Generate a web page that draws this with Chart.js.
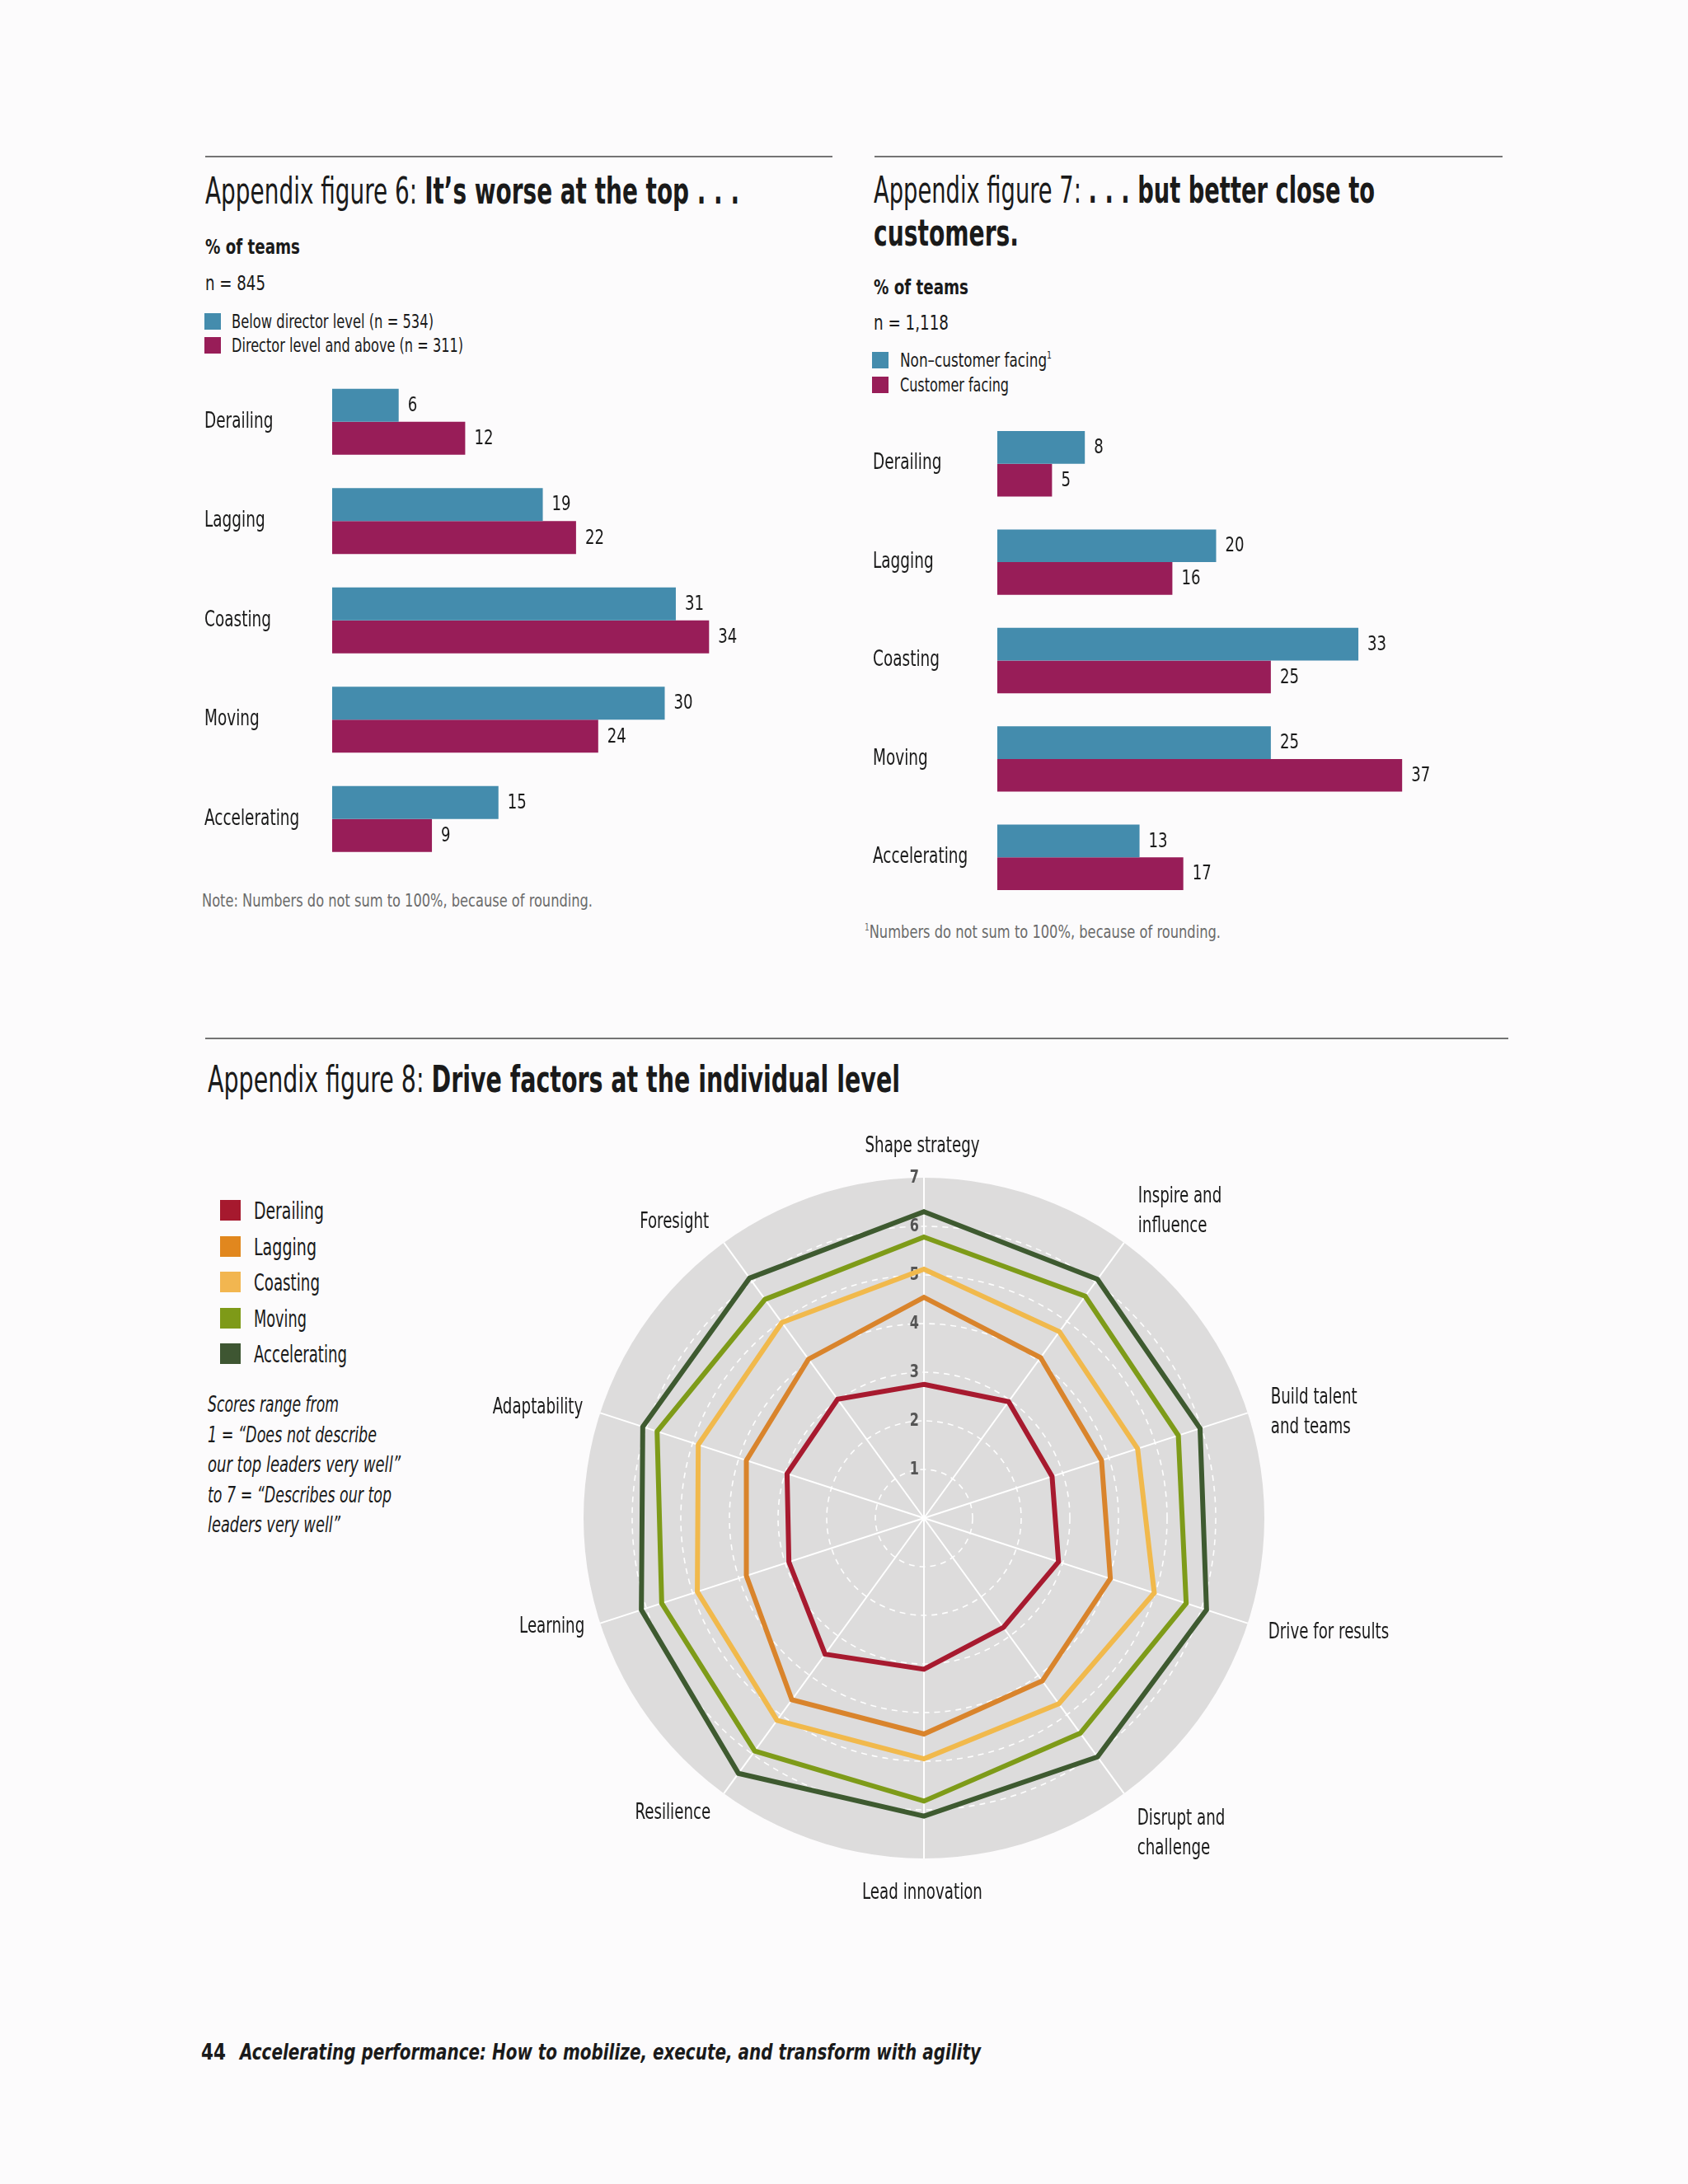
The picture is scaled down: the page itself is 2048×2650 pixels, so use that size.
<!DOCTYPE html>
<html>
<head>
<meta charset="utf-8">
<script src="https://cdn.jsdelivr.net/npm/chart.js@4.4.1/dist/chart.umd.min.js"></script>
<style>
html,body{margin:0;padding:0;background:#fcfbfc;}
body{width:2048px;height:2650px;position:relative;overflow:hidden;font-family:'Liberation Sans Narrow','DejaVu Sans Condensed',sans-serif;color:#1a1a1a;}
.t{position:absolute;white-space:nowrap;transform-origin:0 0;line-height:1;}
.rule{position:absolute;height:2px;background:#747474;}
.sw{position:absolute;}
canvas{position:absolute;}
sup{font-size:55%;vertical-align:0;position:relative;top:-0.75em;}
</style>
</head>
<body>
<div class="rule" style="left:249px;top:189px;width:761px;"></div>
<div class="rule" style="left:1061px;top:189px;width:762px;"></div>
<div class="rule" style="left:249px;top:1259px;width:1581px;"></div>

<canvas id="fig6" width="762" height="625" style="left:248px;top:440px;"></canvas>
<canvas id="fig7" width="771" height="617" style="left:1059px;top:493px;"></canvas>
<canvas id="fig8" width="1200" height="1000" style="left:540px;top:1340px;"></canvas>

<script>
// ---------------- data ----------------
const fig6Categories = ['Derailing', 'Lagging', 'Coasting', 'Moving', 'Accelerating'];
const fig6SeriesNames = ['Below director level (n = 534)', 'Director level and above (n = 311)'];
const fig6Below = [6, 19, 31, 30, 15];
const fig6Director = [12, 22, 34, 24, 9];

const fig7Categories = ['Derailing', 'Lagging', 'Coasting', 'Moving', 'Accelerating'];
const fig7SeriesNames = ['Non–customer facing', 'Customer facing'];
const fig7NonCustomer = [8, 20, 33, 25, 13];
const fig7Customer = [5, 16, 25, 37, 17];

const radarAxes = ['Shape strategy', ['Inspire and', 'influence'], ['Build talent', 'and teams'], 'Drive for results',
  ['Disrupt and', 'challenge'], 'Lead innovation', 'Resilience', 'Learning', 'Adaptability', 'Foresight'];
const radarSeriesNames = ['Derailing', 'Lagging', 'Coasting', 'Moving', 'Accelerating'];
const radarDerailing    = [2.75, 2.96, 2.77, 2.91, 2.78, 3.11, 3.46, 2.92, 2.96, 3.02];
const radarLagging      = [4.54, 4.08, 3.84, 4.03, 4.14, 4.44, 4.62, 3.84, 3.84, 4.04];
const radarCoasting     = [5.12, 4.74, 4.62, 4.98, 4.72, 4.95, 5.14, 4.90, 4.88, 4.97];
const radarMoving       = [5.78, 5.64, 5.50, 5.67, 5.47, 5.82, 5.92, 5.67, 5.77, 5.56];
const radarAccelerating = [6.30, 6.07, 5.97, 6.11, 6.07, 6.13, 6.49, 6.11, 6.08, 6.10];
const radarTicks = [1, 2, 3, 4, 5, 6, 7];

// ---------------- styles ----------------
const FONT = "'Liberation Sans Narrow','DejaVu Sans Condensed',sans-serif";
const BLUE = '#448cad';
const MAGENTA = '#981d58';
const RADAR_COLORS = ['#a71a2f', '#d9842c', '#f1b94c', '#7e9b19', '#3e5a30'];
const LEGEND_COLORS = ['#a6192e', '#e1871e', '#f2b650', '#7e9a18', '#3e5632'];
const SQUEEZE = 0.79; // horizontal compression for canvas text (condensed face)

// ---------------- text helpers ----------------
function addText(x, base, size, html, opt) {
  opt = opt || {};
  const d = document.createElement('div');
  d.className = 't';
  d.style.left = x + 'px';
  d.style.top = (base - 0.846 * size) + 'px';
  d.style.fontSize = size + 'px';
  if (opt.weight) d.style.fontWeight = opt.weight;
  if (opt.italic) d.style.fontStyle = 'italic';
  if (opt.color) d.style.color = opt.color;
  d.innerHTML = html;
  document.body.appendChild(d);
  if (opt.w) {
    const w = d.getBoundingClientRect().width;
    if (w > 0) d.style.transform = 'scaleX(' + (opt.w / w) + ')';
  }
  return d;
}
function addSwatch(x, y, w, h, color) {
  const s = document.createElement('div');
  s.className = 'sw';
  s.style.cssText += `left:${x}px;top:${y}px;width:${w}px;height:${h}px;background:${color};`;
  document.body.appendChild(s);
}
function canvasText(ctx, text, x, y, align, sx) {
  ctx.save();
  ctx.translate(x, y);
  ctx.scale(sx, 1);
  ctx.textAlign = align;
  ctx.fillText(text, 0, 0);
  ctx.restore();
}

// Figure 6 texts
addText(249, 247, 44, 'Appendix figure 6: <b>It’s worse at the top . . .</b>', {w: 648});
addText(249, 308, 25, '% of teams', {weight: 'bold', w: 115});
addText(249, 352, 25, 'n = 845', {w: 73});
addSwatch(248, 380, 20, 20, BLUE);
addSwatch(248, 409, 20, 20, MAGENTA);
addText(281, 398, 23, fig6SeriesNames[0], {w: 245});
addText(281, 427, 23, fig6SeriesNames[1], {w: 281});
addText(245, 1101, 22, 'Note: Numbers do not sum to 100%, because of rounding.', {w: 474, color: '#6b6b6b'});

// Figure 7 texts
addText(1060, 246, 44, 'Appendix figure 7: <b>. . . but better close to</b>', {w: 608});
addText(1060, 298, 44, '<b>customers.</b>', {w: 176});
addText(1060, 357, 25, '% of teams', {weight: 'bold', w: 115});
addText(1060, 400, 25, 'n = 1,118', {w: 91});
addSwatch(1058, 427, 20, 20, BLUE);
addSwatch(1058, 457, 20, 20, MAGENTA);
addText(1092, 445, 23, fig7SeriesNames[0] + '<sup>1</sup>', {w: 184});
addText(1092, 475, 23, fig7SeriesNames[1], {w: 132});
addText(1049, 1139, 22, '<sup>1</sup>Numbers do not sum to 100%, because of rounding.', {w: 432, color: '#6b6b6b'});

// Figure 8 texts
addText(252, 1325, 44, 'Appendix figure 8: <b>Drive factors at the individual level</b>', {w: 840});
const legendBase = [1480, 1524, 1567, 1611, 1654];
const legendW = [85, 76, 80, 64, 113];
radarSeriesNames.forEach((n, i) => {
  addSwatch(267, legendBase[i] - 24, 25, 25, LEGEND_COLORS[i]);
  addText(308, legendBase[i], 28, n, {w: legendW[i]});
});
const noteLines = ['Scores range from', '1 = “Does not describe', 'our top leaders very well”', 'to 7 = “Describes our top', 'leaders very well”'];
const noteW = [159, 205, 234, 223, 161];
noteLines.forEach((l, i) => addText(252, 1713 + i * 36.5, 27, l, {italic: true, w: noteW[i]}));

// Footer
addText(244, 2499, 26, '44', {weight: 'bold', w: 30});
addText(291, 2499, 26, 'Accelerating performance: How to mobilize, execute, and transform with agility', {weight: 'bold', italic: true, w: 899});

// ---------------- bar charts ----------------
const barText = {
  id: 'barText',
  afterDatasetsDraw(chart) {
    const ctx = chart.ctx;
    ctx.save();
    ctx.fillStyle = '#1a1a1a';
    ctx.textBaseline = 'middle';
    // value labels at bar ends
    ctx.font = '24px ' + FONT;
    chart.data.datasets.forEach((ds, di) => {
      chart.getDatasetMeta(di).data.forEach((bar, i) => {
        canvasText(ctx, String(ds.data[i]), bar.x + 11, bar.y + 1, 'left', 0.84);
      });
    });
    // category labels from the y scale
    const ys = chart.scales.y;
    ctx.font = '26px ' + FONT;
    ys.getLabels().forEach((lab, i) => {
      canvasText(ctx, lab, ys.left, ys.getPixelForTick(i), 'left', SQUEEZE);
    });
    ctx.restore();
  }
};

function barChart(id, cats, names, a, b, pad, axisW) {
  return new Chart(document.getElementById(id), {
    type: 'bar',
    data: {
      labels: cats,
      datasets: [
        {label: names[0], data: a, backgroundColor: BLUE, categoryPercentage: 0.665, barPercentage: 1},
        {label: names[1], data: b, backgroundColor: MAGENTA, categoryPercentage: 0.665, barPercentage: 1}
      ]
    },
    options: {
      indexAxis: 'y',
      responsive: false,
      animation: false,
      devicePixelRatio: 1,
      layout: {padding: pad},
      plugins: {legend: {display: false}, tooltip: {enabled: false}},
      scales: {
        x: {display: false, min: 0, max: 40},
        y: {
          afterFit: ax => { ax.width = axisW; },
          grid: {display: false},
          border: {display: false},
          ticks: {display: false}
        }
      }
    },
    plugins: [barText]
  });
}
barChart('fig6', fig6Categories, fig6SeriesNames, fig6Below, fig6Director, {left: 0, right: 69, top: 11.5, bottom: 11}, 155);
barChart('fig7', fig7Categories, fig7SeriesNames, fig7NonCustomer, fig7Customer, {left: 0, right: 89, top: 10, bottom: 10}, 151);

// ---------------- radar ----------------
const LABEL_POS = [
  {dx: -2, dy: -38, align: 'center'},
  {dx: 17, dy: -38, align: 'left'},
  {dx: 28, dy: 0, align: 'left'},
  {dx: 25, dy: 12, align: 'left'},
  {dx: 16, dy: 49, align: 'left'},
  {dx: -2, dy: 42, align: 'center'},
  {dx: -16, dy: 24, align: 'right'},
  {dx: -19, dy: 5, align: 'right'},
  {dx: -21, dy: -6, align: 'right'},
  {dx: -18, dy: -25, align: 'right'}
];
const radarDecor = {
  id: 'radarDecor',
  beforeDatasetsDraw(chart) {
    const s = chart.scales.r, ctx = chart.ctx;
    ctx.save();
    ctx.font = 'bold 21px ' + FONT;
    ctx.fillStyle = '#555555';
    ctx.textBaseline = 'middle';
    radarTicks.forEach(v => {
      canvasText(ctx, String(v), s.xCenter - 6, s.yCenter - s.getDistanceFromCenterForValue(v) + 1, 'right', 0.85);
    });
    ctx.restore();
  },
  afterDraw(chart) {
    const s = chart.scales.r, ctx = chart.ctx;
    ctx.save();
    ctx.font = '26px ' + FONT;
    ctx.fillStyle = '#1a1a1a';
    ctx.textBaseline = 'middle';
    radarAxes.forEach((lab, i) => {
      const tip = s.getPointPosition(i, s.drawingArea);
      const o = LABEL_POS[i];
      const lines = Array.isArray(lab) ? lab : [lab];
      const lh = 36;
      const top = tip.y + o.dy - (lines.length - 1) * lh / 2;
      lines.forEach((ln, k) => canvasText(ctx, ln, tip.x + o.dx, top + k * lh, o.align, 0.78));
    });
    ctx.restore();
  }
};
const radarData = [radarDerailing, radarLagging, radarCoasting, radarMoving, radarAccelerating];
new Chart(document.getElementById('fig8'), {
  type: 'radar',
  data: {
    labels: radarAxes,
    datasets: radarData.map((d, i) => ({
      label: radarSeriesNames[i], data: d, borderColor: RADAR_COLORS[i], backgroundColor: 'transparent',
      borderWidth: 6, fill: false, pointRadius: 0, pointHoverRadius: 0, tension: 0, borderJoinStyle: 'miter'
    }))
  },
  options: {
    responsive: false,
    animation: false,
    devicePixelRatio: 1,
    layout: {padding: {left: 168, right: 206, top: 89, bottom: 85}},
    plugins: {legend: {display: false}, tooltip: {enabled: false}},
    scales: {
      r: {
        min: 0, max: 7,
        backgroundColor: '#dddcdc',
        afterFit: s => {
          s.xCenter = Math.round(s.left + s.width / 2);
          s.yCenter = Math.round(s.top + s.height / 2);
          s.drawingArea = Math.min(s.width, s.height) / 2;
        },
        ticks: {display: false, stepSize: 1},
        grid: {
          circular: true,
          color: c => (c.tick && c.tick.value >= 7) ? 'rgba(0,0,0,0)' : 'rgba(255,255,255,0.95)',
          lineWidth: 1.6
        },
        border: {dash: [7, 6]},
        angleLines: {color: '#ffffff', lineWidth: 2},
        pointLabels: {display: false}
      }
    }
  },
  plugins: [radarDecor]
});
</script>
</body>
</html>
